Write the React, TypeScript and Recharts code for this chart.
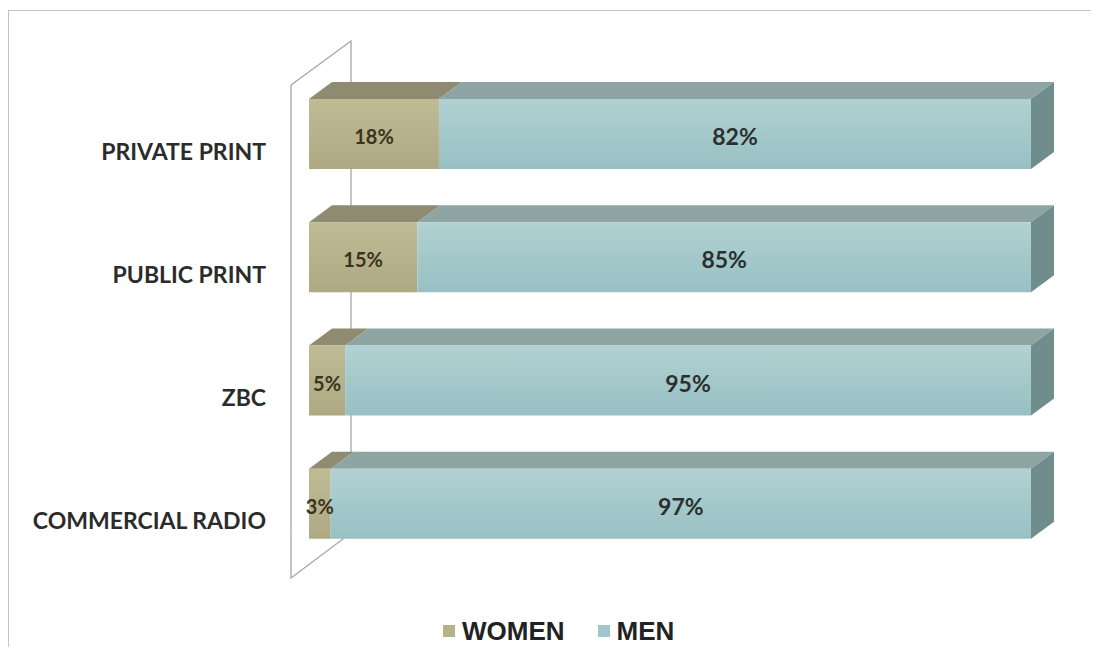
import { BarChart, Bar, XAxis, YAxis, LabelList } from "recharts";

const categories = ["PRIVATE PRINT", "PUBLIC PRINT", "ZBC", "COMMERCIAL RADIO"];
const women = [18, 15, 5, 3];
const men = [82, 85, 95, 97];

const data = categories.map((name, i) => ({ name, women: women[i], men: men[i] }));

const W = 1080;
const H = 636;
const margin = { top: 61, right: 58, bottom: 82, left: 0 };
const axisW = 300;
const DX = 23;
const DY = 17;

const plotLeft = margin.left + axisW;
const plotTop = margin.top;
const plotBottom = H - margin.bottom;

const make3D = (fill: string, top: string, side: string | null) => (props: any) => {
  const { x, y, width, height } = props;
  if (!width || width <= 0) return <g />;
  return (
    <g>
      <polygon
        points={`${x},${y} ${x + DX},${y - DY} ${x + width + DX},${y - DY} ${x + width},${y}`}
        fill={top}
      />
      {side && (
        <polygon
          points={`${x + width},${y} ${x + width + DX},${y - DY} ${x + width + DX},${y + height - DY} ${x + width},${y + height}`}
          fill={side}
        />
      )}
      <rect x={x} y={y} width={width} height={height} fill={fill} />
    </g>
  );
};

const Tick = (props: any) => {
  const { x, y, payload } = props;
  return (
    <text
      x={x}
      y={y + 18}
      dy="0.35em"
      textAnchor="end"
      fill="#2b2b2b"
      fontFamily="Lato"
      fontWeight={700}
      fontSize={23}
    >
      {payload.value}
    </text>
  );
};

const valueLabel = (size: number, color: string) => (props: any) => {
  const { x, y, width, height, value } = props;
  return (
    <text
      x={x + width / 2}
      y={y + height / 2 + 3}
      dy="0.35em"
      textAnchor="middle"
      fill={color}
      fontFamily="Lato"
      fontWeight={700}
      fontSize={size}
    >
      {value}%
    </text>
  );
};

const legendItems = [
  ["WOMEN", "#b6b28c"],
  ["MEN", "#9fc8cc"],
];

export default function App() {
  const fx = plotLeft - 18;
  const bx = plotLeft + 42;
  return (
    <div style={{ paddingTop: 3, paddingLeft: 1 }}>
      <div style={{ width: W, height: H, position: "relative" }}>
        <svg width={W} height={H} style={{ position: "absolute", left: 0, top: 0 }}>
          <polyline
            points={`${fx},${plotTop + 13} ${bx},${plotTop - 31} ${bx},${plotBottom - 32} ${fx},${plotBottom + 13} ${fx},${plotTop + 13}`}
            fill="none"
            stroke="#a6a6a6"
            strokeWidth={1.3}
          />
        </svg>
        <div
          style={{
            position: "absolute",
            left: -1,
            top: -1,
            width: 1090,
            height: 648,
            boxSizing: "border-box",
            borderTop: "1px solid #c4c4c4",
            borderLeft: "1px solid #c4c4c4",
            pointerEvents: "none",
          }}
        />
        <div style={{ position: "absolute", left: 0, top: 0 }}>
          <BarChart width={W} height={H} data={data} layout="vertical" margin={margin} barSize={70}>
            <defs>
              <linearGradient id="gw" x1="0" y1="0" x2="0" y2="1">
                <stop offset="0%" stopColor="#bfbb95" />
                <stop offset="100%" stopColor="#aea983" />
              </linearGradient>
              <linearGradient id="gm" x1="0" y1="0" x2="0" y2="1">
                <stop offset="0%" stopColor="#b1d1d2" />
                <stop offset="100%" stopColor="#98c0c3" />
              </linearGradient>
            </defs>
            <XAxis type="number" domain={[0, 100]} hide />
            <YAxis
              type="category"
              dataKey="name"
              width={axisW}
              axisLine={false}
              tickLine={false}
              tickSize={0}
              tickMargin={43}
              tick={<Tick />}
            />
            <Bar
              dataKey="women"
              stackId="a"
              isAnimationActive={false}
              shape={make3D("url(#gw)", "#8f8b70", null)}
            >
              <LabelList dataKey="women" content={valueLabel(20, "#3a341e")} />
            </Bar>
            <Bar
              dataKey="men"
              stackId="a"
              isAnimationActive={false}
              shape={make3D("url(#gm)", "#8ea5a4", "#6f8d8d")}
            >
              <LabelList dataKey="men" content={valueLabel(23, "#2b2f2f")} />
            </Bar>
          </BarChart>
        </div>
        <div
          style={{
            position: "absolute",
            left: 434,
            top: 605,
            display: "flex",
            gap: 33,
            fontFamily: "Liberation Sans, Arial",
            fontWeight: 700,
            fontSize: 26,
            lineHeight: "30px",
            color: "#222",
          }}
        >
          {legendItems.map(([label, c]) => (
            <div key={label} style={{ display: "flex", alignItems: "center", gap: 7 }}>
              <span style={{ width: 12, height: 12, background: c, display: "inline-block" }} />
              <span>{label}</span>
            </div>
          ))}
        </div>
      </div>
    </div>
  );
}
